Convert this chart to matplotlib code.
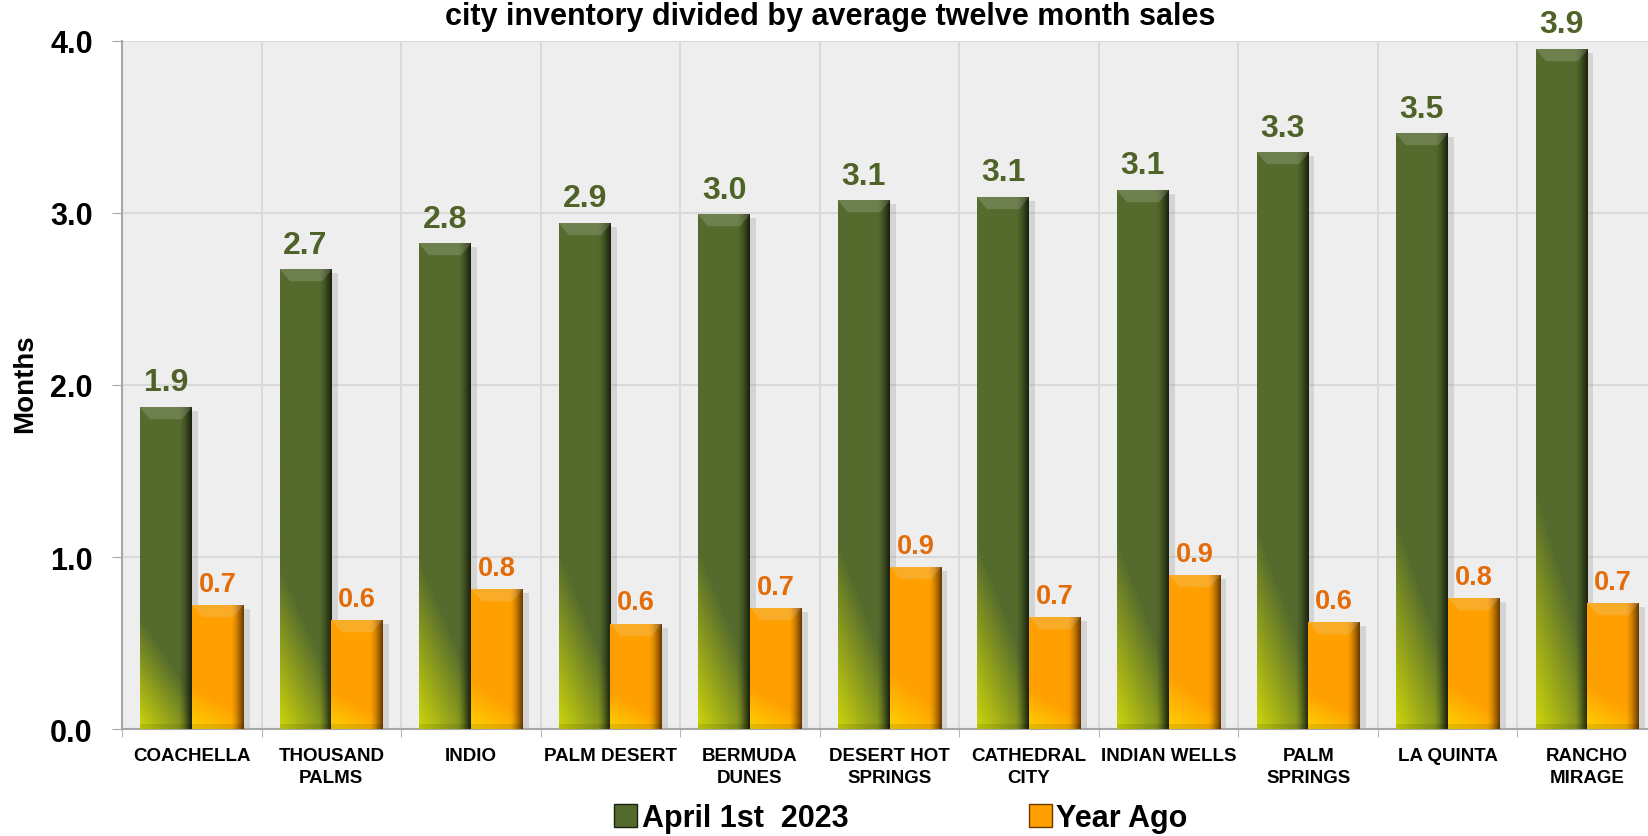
import numpy as np
import matplotlib.pyplot as plt
from matplotlib.patches import Patch, Rectangle

plt.rcParams['font.family'] = ['Liberation Sans', 'DejaVu Sans']

# данные
cities = ["COACHELLA", "THOUSAND\nPALMS", "INDIO", "PALM DESERT", "BERMUDA\nDUNES",
          "DESERT HOT\nSPRINGS", "CATHEDRAL\nCITY", "INDIAN WELLS", "PALM\nSPRINGS",
          "LA QUINTA", "RANCHO\nMIRAGE"]
current = [1.87, 2.67, 2.82, 2.94, 2.99, 3.07, 3.09, 3.13, 3.35, 3.46, 3.95]
current_labels = ["1.9", "2.7", "2.8", "2.9", "3.0", "3.1", "3.1", "3.1", "3.3", "3.5", "3.9"]
year_ago = [0.72, 0.63, 0.81, 0.61, 0.70, 0.94, 0.65, 0.89, 0.62, 0.76, 0.73]
year_ago_labels = ["0.7", "0.6", "0.8", "0.6", "0.7", "0.9", "0.7", "0.9", "0.6", "0.8", "0.7"]
series_names = ["April 1st  2023", "Year Ago"]
title = "city inventory divided by average twelve month sales"

GREEN = np.array([85, 107, 45]) / 255
GREEN_LIGHT = np.array([205, 214, 10]) / 255
GREEN_DARK = np.array([25, 33, 12]) / 255
ORANGE = np.array([255, 160, 0]) / 255
ORANGE_LIGHT = np.array([255, 208, 0]) / 255
ORANGE_DARK = np.array([105, 58, 0]) / 255


# градиентная заливка столбика
def shade_bar(ax, rect, main, light, dark):
    x0, w, h = rect.get_x(), rect.get_width(), rect.get_height()
    nx, ny = 60, max(int(h * 170), 20)
    xf, yy = np.meshgrid(np.linspace(0, 1, nx), np.linspace(0, h, ny))
    yf = yy / h
    img = np.ones((ny, nx, 3)) * main
    wy = np.clip(1 - yf / 0.35 - 0.7 * xf, 0, 1)[..., None]
    img = img * (1 - wy) + light * wy
    wd = (np.clip((xf - 0.75) / 0.25, 0, 1) ** 1.5)[..., None]
    img = img * (1 - wd) + dark * wd
    bev = 0.07
    d = (h - yy) / bev
    top = (d < 1) & (xf > 0.2 * d) & (xf < 1 - 0.2 * d)
    img[top] = img[top] * 0.82 + 0.16
    bot = yy < 0.025
    img[bot] = img[bot] * 0.9
    # тень
    ax.add_patch(Rectangle((x0 + w * 0.12, 0), w, h - 0.02, facecolor='#9A9A9A',
                           alpha=0.3, edgecolor='none', zorder=2.5))
    ax.imshow(img, extent=(x0, x0 + w, 0, h), origin='lower', aspect='auto',
              interpolation='bilinear', zorder=3)


fig = plt.figure(figsize=(16.48, 8.37), dpi=100)
ax = fig.add_axes([122 / 1648, 1 - 730 / 837, 1535 / 1648, 688 / 837])
ax.set_facecolor('#EEEEEE')

x = np.arange(len(cities))
width = 0.37
bars1 = ax.bar(x - 0.185, current, width, color=GREEN, zorder=2)
bars2 = ax.bar(x + 0.185, year_ago, width, color=ORANGE, zorder=2)

for rect, lab in zip(bars1, current_labels):
    shade_bar(ax, rect, GREEN, GREEN_LIGHT, GREEN_DARK)
    ax.text(rect.get_x() + rect.get_width() / 2, rect.get_height() + 0.10, lab,
            ha='center', va='baseline', fontsize=23, fontweight='bold', color='#4F6228')
for rect, lab in zip(bars2, year_ago_labels):
    shade_bar(ax, rect, ORANGE, ORANGE_LIGHT, ORANGE_DARK)
    ax.text(rect.get_x() + rect.get_width() / 2, rect.get_height() + 0.085, lab,
            ha='center', va='baseline', fontsize=19.5, fontweight='bold', color='#E36C09')

ax.set_xlim(-0.5, len(cities) - 0.5)
ax.set_ylim(0, 4)

ax.set_yticks(np.arange(0, 4.1, 1))
ax.set_yticklabels([f"{v:.1f}" for v in np.arange(0, 4.1, 1)], fontsize=22, fontweight='bold')
ax.tick_params(axis='y', length=7, color='#A6A6A6', pad=14)
ax.set_xticks(x)
ax.set_xticklabels(cities, fontsize=13.5, fontweight='bold', linespacing=1.35)
ax.set_xticks(np.arange(-0.5, len(cities), 1), minor=True)
ax.tick_params(axis='x', which='major', length=0, pad=13)
ax.tick_params(axis='x', which='minor', length=6, color='#A6A6A6')

ax.set_axisbelow(True)
ax.yaxis.grid(True, color='#D9D9D9', lw=1.5)
ax.xaxis.grid(True, which='minor', color='#D9D9D9', lw=1.5)
ax.xaxis.grid(False, which='major')
for side in ['top', 'right']:
    ax.spines[side].set_visible(False)
for side in ['left', 'bottom']:
    ax.spines[side].set_color('#A6A6A6')
    ax.spines[side].set_linewidth(1.5)

fig.text(25 / 1648, 1 - 384 / 837, "Months", rotation=90, ha='center', va='center',
         fontsize=20, fontweight='bold')
fig.text(830 / 1648, 1 - 25 / 837, title, ha='center', va='baseline',
         fontsize=22, fontweight='bold')

handles = [Patch(facecolor=GREEN, edgecolor=GREEN_DARK),
           Patch(facecolor=ORANGE, edgecolor=ORANGE_DARK)]
fig.legend(handles, series_names, loc='center', bbox_to_anchor=(901 / 1648, 1 - 819 / 837),
           ncol=2, frameon=False, prop={'weight': 'bold', 'size': 22},
           handlelength=0.75, handleheight=0.75, handletextpad=0.15, columnspacing=5.9)

fig.savefig('out.png', dpi=100)
